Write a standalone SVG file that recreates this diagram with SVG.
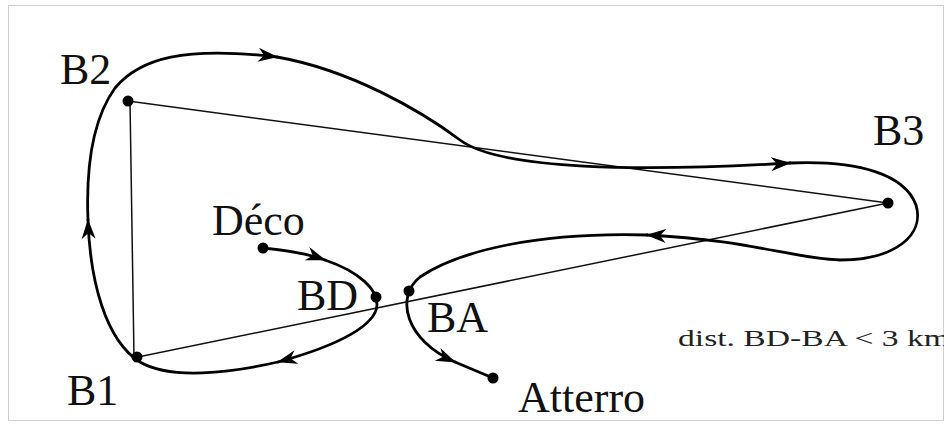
<svg xmlns="http://www.w3.org/2000/svg" width="947" height="425" viewBox="0 0 947 425">
  <style>
    .lbl { font-family: "Liberation Serif", "Times New Roman", serif; font-size: 44px; fill: #111; }
    .note { font-family: "Liberation Serif", "Times New Roman", serif; font-size: 23px; fill: #222; }
    .dot { fill: #000; }
    .leg { fill: none; stroke: #111; stroke-width: 1.5; }
    .track { fill: none; stroke: #000; stroke-width: 2.8; stroke-linecap: round; stroke-linejoin: round; }
  </style>
  <defs>
    <marker id="arr" markerUnits="userSpaceOnUse" markerWidth="22" markerHeight="16" refX="19" refY="7" orient="auto">
      <path d="M0,0 L20,7 L0,14 L6,7 z" fill="#000"/>
    </marker>
    <clipPath id="frameClip">
      <rect x="8" y="5" width="936" height="416"/>
    </clipPath>
  </defs>
  <rect x="0" y="0" width="947" height="425" fill="#fff"/>
  <rect x="8.5" y="5.5" width="935" height="415" fill="none" stroke="#cfcfcf" stroke-width="1"/>

  <g id="connectors">
    <line class="leg" x1="130" y1="101" x2="134" y2="357"/>
    <line class="leg" x1="128" y1="101" x2="888" y2="203"/>
    <line class="leg" x1="888" y1="203" x2="138" y2="357"/>
    <path class="track" d="M263,248 C285,250 305,253 325,260" marker-end="url(#arr)"/>
    <path class="track" d="M325,260 C360,272 378,290 377,305 C376,325 340,345 278,362" marker-end="url(#arr)"/>
    <path class="track" d="M278,362 C230,373 170,380 140,362 C105,340 90,280 88,220" marker-end="url(#arr)"/>
    <path class="track" d="M88,220 C86,170 92,120 115,88 C140,58 185,46 277,57" marker-end="url(#arr)"/>
    <path class="track" d="M277,57 C350,70 420,110 460,140 C500,170 640,172 790,163" marker-end="url(#arr)"/>
    <path class="track" d="M790,163 C860,160 905,175 916,205 C925,235 895,260 840,260 C790,258 750,240 647,235" marker-end="url(#arr)"/>
    <path class="track" d="M647,235 C540,232 460,250 420,277 C395,297 405,340 455,362" marker-end="url(#arr)"/>
    <path class="track" d="M455,362 L493,378"/>
  </g>

  <g id="B2">
    <circle class="dot" cx="128" cy="101" r="5.5"/>
    <text class="lbl" x="60" y="84">B2</text>
  </g>
  <g id="B1">
    <circle class="dot" cx="137" cy="357" r="5.5"/>
    <text class="lbl" x="67" y="405">B1</text>
  </g>
  <g id="B3">
    <circle class="dot" cx="888" cy="203" r="5.5"/>
    <text class="lbl" x="873" y="145">B3</text>
  </g>
  <g id="Deco">
    <circle class="dot" cx="263" cy="248" r="5.5"/>
    <text class="lbl" x="212" y="235">Déco</text>
  </g>
  <g id="BD">
    <circle class="dot" cx="376" cy="297" r="5.5"/>
    <text class="lbl" x="297" y="310">BD</text>
  </g>
  <g id="BA">
    <circle class="dot" cx="409" cy="291" r="5.5"/>
    <text class="lbl" x="427" y="332">BA</text>
  </g>
  <g id="Atterro">
    <circle class="dot" cx="493" cy="378" r="5.5"/>
    <text class="lbl" x="518" y="412">Atterro</text>
  </g>
  <g id="note" clip-path="url(#frameClip)">
    <text class="note" x="678" y="346" textLength="272" lengthAdjust="spacingAndGlyphs">dist. BD-BA &lt; 3 km</text>
  </g>
</svg>
